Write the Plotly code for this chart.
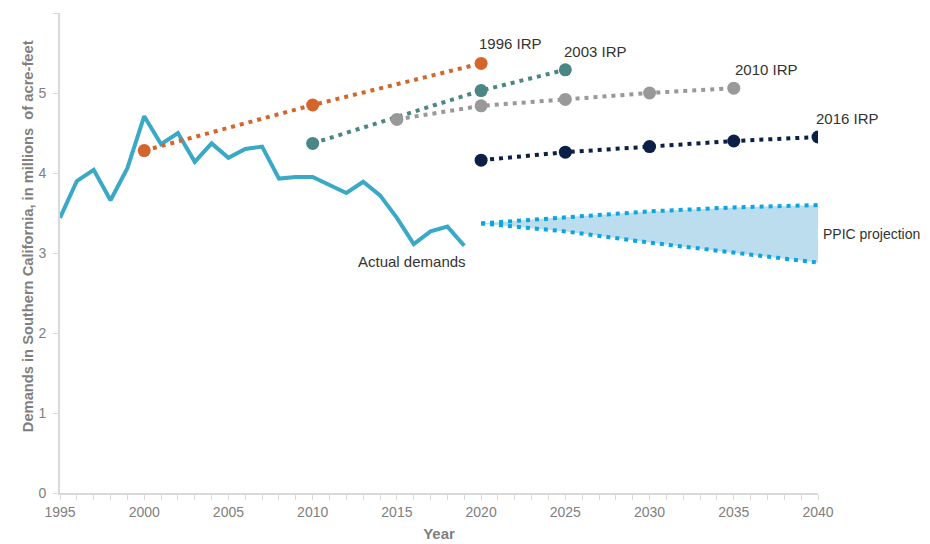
import plotly.graph_objects as go

# Actual demands (millions of acre-feet)
actual_years = list(range(1995, 2020))
actual_values = [3.44, 3.90, 4.04, 3.66, 4.06, 4.71, 4.36, 4.50, 4.14, 4.37,
                 4.19, 4.30, 4.33, 3.93, 3.95, 3.95, 3.85, 3.75, 3.89, 3.72,
                 3.44, 3.11, 3.27, 3.33, 3.09]

irp1996_years = [2000, 2010, 2020]
irp1996_values = [4.28, 4.85, 5.37]

irp2003_years = [2010, 2020, 2025]
irp2003_values = [4.37, 5.03, 5.29]

irp2010_years = [2015, 2020, 2025, 2030, 2035]
irp2010_values = [4.67, 4.84, 4.92, 5.00, 5.06]

irp2016_years = [2020, 2025, 2030, 2035, 2040]
irp2016_values = [4.16, 4.26, 4.33, 4.40, 4.45]

ppic_years = [2020, 2025, 2030, 2035, 2040]
ppic_high = [3.37, 3.45, 3.52, 3.57, 3.60]
ppic_low = [3.37, 3.27, 3.13, 3.00, 2.88]

fig = go.Figure()

# PPIC band
fig.add_trace(go.Scatter(x=ppic_years, y=ppic_high, mode="lines",
                         line=dict(color="rgba(0,0,0,0)", width=0),
                         hoverinfo="skip", showlegend=False))
fig.add_trace(go.Scatter(x=ppic_years, y=ppic_low, mode="lines",
                         line=dict(color="rgba(0,0,0,0)", width=0),
                         fill="tonexty", fillcolor="#BCDDED",
                         hoverinfo="skip", showlegend=False))
dot = "4px,5px"
for vals in (ppic_high, ppic_low):
    fig.add_trace(go.Scatter(x=ppic_years, y=vals, mode="lines",
                             line=dict(color="#0AA5E3", width=4, dash=dot),
                             showlegend=False))

fig.add_trace(go.Scatter(x=actual_years, y=actual_values, mode="lines",
                         line=dict(color="#3AA8C7", width=4), showlegend=False))

series = [
    (irp1996_years, irp1996_values, "#D5662B"),
    (irp2003_years, irp2003_values, "#4A8683"),
    (irp2010_years, irp2010_values, "#999999"),
    (irp2016_years, irp2016_values, "#0C1F47"),
]
for xs, ys, col in series:
    fig.add_trace(go.Scatter(x=xs, y=ys, mode="lines+markers",
                             line=dict(color=col, width=4, dash=dot),
                             marker=dict(color=col, size=13),
                             showlegend=False))

font_txt = dict(family="Liberation Sans, Arial, sans-serif", size=15, color="#333333")
labels = [
    ("1996 IRP", 2020, 5.37, "left", -4, 20, 15),
    ("2003 IRP", 2025, 5.29, "left", -3, 18, 15),
    ("2010 IRP", 2035, 5.06, "left", -1, 19, 15),
    ("2016 IRP", 2040, 4.45, "left", -4, 19, 15),
    ("PPIC projection", 2040, 3.24, "left", 3, 0, 14),
    ("Actual demands", 2019, 3.09, "right", 4, -16, 15),
]
for text, x, y, xa, dx, dy, fs in labels:
    fig.add_annotation(x=x, y=y, text=text, showarrow=False, xanchor=xa,
                       xshift=dx, yshift=dy, font=dict(font_txt, size=fs))

axis_col = "#D9D9D9"
tick_font = dict(family="Liberation Sans, Arial, sans-serif", size=14, color="#808080")
title_font = dict(family="Liberation Sans, Arial, sans-serif", size=15, color="#7F7F7F")

# y-axis title placed as a rotated annotation
fig.add_annotation(xref="paper", yref="paper", x=0, y=0.535, xshift=-42,
                   text="<b>Demands in Southern California, in millions  of acre-feet</b>",
                   textangle=-90, showarrow=False, font=dict(title_font, size=14.7))

fig.update_xaxes(range=[1995, 2040], tickmode="linear", tick0=1995, dtick=5,
                 ticks="outside", ticklen=5, tickcolor=axis_col, tickwidth=1,
                 minor=dict(dtick=1, ticks="outside", ticklen=5, tickcolor=axis_col),
                 showline=True, linecolor=axis_col, linewidth=2, showgrid=False,
                 zeroline=False, tickfont=tick_font, automargin=False,
                 title=dict(text="<b>Year</b>", font=title_font, standoff=10))
fig.update_yaxes(range=[0, 6], tickmode="linear", tick0=0, dtick=1,
                 ticks="outside", ticklen=5, tickcolor=axis_col, tickwidth=1,
                 ticklabelstandoff=4,
                 showline=True, linecolor=axis_col, linewidth=2, showgrid=False,
                 zeroline=False, tickfont=tick_font, automargin=False)

fig.update_layout(width=922, height=536, plot_bgcolor="white", paper_bgcolor="white",
                  margin=dict(l=52, r=112, t=5, b=51), showlegend=False)

fig.write_html("out.html")
